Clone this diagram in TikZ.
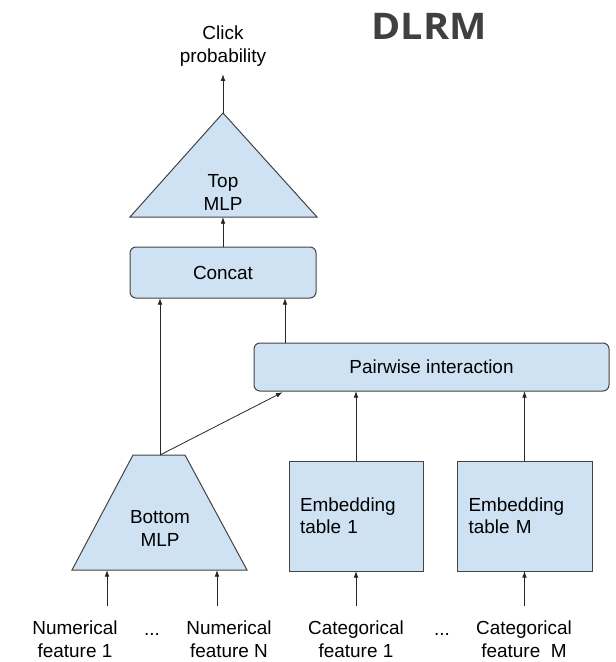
\documentclass[tikz,border=0pt]{standalone}
\usepackage{fontspec}
\setmainfont{Liberation Sans}
\newfontfamily\titlefont{Open Sans}
\usetikzlibrary{arrows.meta}
\definecolor{boxblue}{HTML}{CFE2F3}
\definecolor{edgegray}{HTML}{434343}

\begin{document}
\begin{tikzpicture}[x=0.75pt,y=-0.75pt,
    lbl/.style={font=\fontsize{14.2}{16.8}\selectfont, align=center, inner sep=0},
    blk/.style={draw=edgegray, fill=boxblue, line width=0.75pt, outer sep=0},
    arr/.style={-{Latex[length=5pt,width=3.5pt]}, line width=0.6pt, black!85}]
  \useasboundingbox (0,0) rectangle (616,662);
  % title and output
  \node[anchor=base, font=\titlefont\bfseries\fontsize{27.5}{27.5}\selectfont, text=black!75] (title) at (429,39) {\scalebox{1.08}[1]{DLRM}};
  \node[lbl, anchor=base] (click) at (223,62) {Click\\probability};
  % top MLP
  \filldraw[blk] (223,113) -- (317,217) -- (130,217) -- cycle;
  \coordinate (topapex) at (223,113);
  \coordinate (topbase) at (223,217);
  \node[lbl, anchor=base] (topmlp) at (223,210) {Top\\MLP};
  % concat and interaction
  \node[blk, lbl, rounded corners=4.5pt, minimum width=139.5pt, minimum height=38.25pt] (concat) at (223,272.5) {Concat};
  \node[blk, lbl, rounded corners=4.5pt, minimum width=266.25pt, minimum height=36pt] (pair) at (431.5,367) {Pairwise interaction};
  \coordinate (pairin) at (285,391);
  \coordinate (concatin) at (285,298);
  % bottom MLP
  \filldraw[blk] (133,455) -- (185,455) -- (247,570) -- (72,570) -- cycle;
  \coordinate (bottop) at (160,455);
  \coordinate (botin1) at (107,570);
  \coordinate (botinN) at (217,570);
  \node[lbl, anchor=base] (botmlp) at (160,546) {Bottom\\MLP};
  % embedding tables
  \node[blk, lbl, align=left, text width=84pt, minimum width=100.5pt, minimum height=82.5pt] (emb1) at (356,516) {Embedding\\table 1};
  \node[blk, lbl, align=left, text width=84pt, minimum width=101.25pt, minimum height=82.5pt] (embM) at (524.5,516) {Embedding\\table M};
  % inputs
  \node[lbl, anchor=base] (num1) at (75,657) {Numerical\\feature 1};
  \node[lbl, anchor=base] (dots1) at (152,635) {...};
  \node[lbl, anchor=base] (numN) at (229,657) {Numerical\\feature N};
  \node[lbl, anchor=base] (cat1) at (356,657) {Categorical\\feature 1};
  \node[lbl, anchor=base] (dots2) at (442,635) {...};
  \node[lbl, anchor=base] (catM) at (524,657) {Categorical\\feature\ \ M};
  % connectors
  \draw[arr, shorten <=11pt] (num1.north -| botin1) -- (botin1);
  \draw[arr, shorten <=11pt] (numN.north -| botinN) -- (botinN);
  \draw[arr, shorten <=11pt] (cat1.north -| emb1.south) -- (emb1.south);
  \draw[arr, shorten <=11pt] (catM.north -| embM.south) -- (embM.south);
  \draw[arr] (emb1.north) -- (pair.south -| emb1.north);
  \draw[arr] (embM.north) -- (pair.south -| embM.north);
  \draw[arr] (bottop) -- (concat.south -| bottop);
  \draw[arr, shorten >=2pt] (bottop) -- (pairin);
  \draw[arr] (pair.north -| concatin) -- (concatin);
  \draw[arr] (concat.north) -- (topbase);
  \draw[arr, shorten >=6pt] (topapex) -- (click.south);
\end{tikzpicture}
\end{document}
